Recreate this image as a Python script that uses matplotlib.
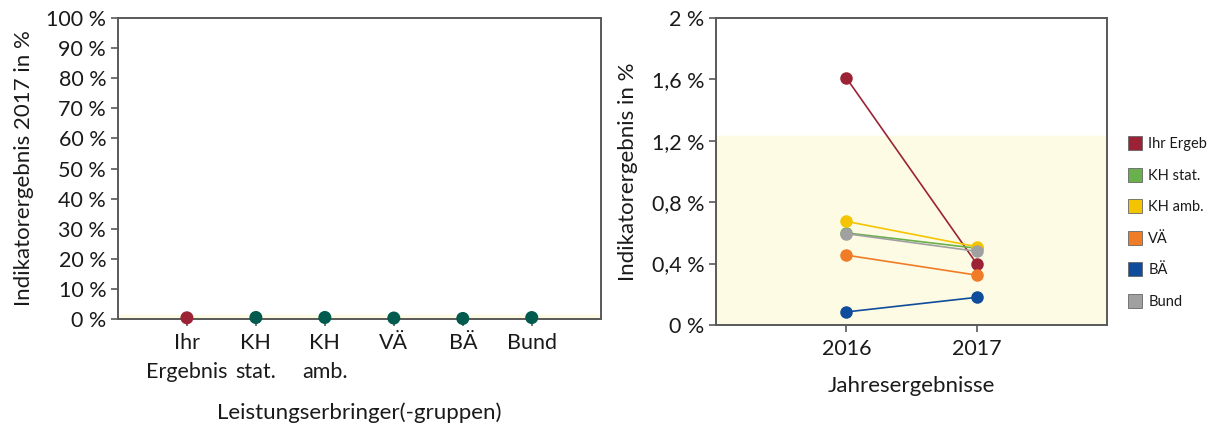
import matplotlib

matplotlib.use("Agg")
import matplotlib.pyplot as plt
from matplotlib.lines import Line2D
from matplotlib.ticker import FuncFormatter

plt.rcParams["font.family"] = ["Lato", "DejaVu Sans"]

groups = ["Ihr\nErgebnis", "KH\nstat.", "KH\namb.", "VÄ", "BÄ", "Bund"]
legend_labels = ["Ihr Ergeb", "KH stat.", "KH amb.", "VÄ", "BÄ", "Bund"]
colors = ["#9b2335", "#6ab04c", "#f5c400", "#f07c28", "#0f4c9c", "#a0a0a0"]
years = ["2016", "2017"]
values_2016 = [1.61, 0.60, 0.675, 0.455, 0.085, 0.595]
values_2017 = [0.40, 0.50, 0.51, 0.325, 0.18, 0.48]
ref_upper = 1.23

spine_col = "#595959"
text_col = "#1a1a1a"
band_col = "#fdfbe3"
fs = 15.5

fig = plt.figure(figsize=(12.16, 4.25), dpi=100)

def pct(v, _):
    s = f"{v:.1f}".rstrip("0").rstrip(".").replace(".", ",")
    return f"{s} %"

def style(ax):
    for sp in ax.spines.values():
        sp.set_color(spine_col)
        sp.set_linewidth(1.4)
    ax.tick_params(colors=spine_col, labelcolor=text_col, labelsize=fs, length=5, width=1.2)

# left chart: 2017 results per group
ax1 = fig.add_axes([0.097, 0.2494, 0.397, 0.708])
style(ax1)
ax1.set_xlim(-1, 6)
ax1.set_ylim(0, 100)
ax1.axhspan(0, ref_upper, color=band_col, zorder=0)
xs = list(range(len(groups)))
dot_cols = [colors[0]] + ["#005a4e"] * 5
ax1.scatter(xs, values_2017, c=dot_cols, s=70, zorder=3, clip_on=False)
ax1.set_xticks(xs)
ax1.set_xticklabels(groups, linespacing=1.6)
ax1.set_yticks(range(0, 101, 10))
ax1.yaxis.set_major_formatter(FuncFormatter(lambda v, _: f"{int(v)} %"))
ax1.tick_params(axis="x", pad=5)
ax1.set_ylabel("Indikatorergebnis 2017 in %", fontsize=16, color=text_col, labelpad=9)
ax1.set_xlabel("Leistungserbringer(-gruppen)", fontsize=16, color=text_col, labelpad=14)

# right chart: year comparison
ax2 = fig.add_axes([0.5888, 0.2353, 0.3215, 0.7224])
style(ax2)
ax2.set_xlim(-1, 2)
ax2.set_ylim(0, 2)
ax2.axhspan(0, ref_upper, color=band_col, zorder=0)
for c, a, b in zip(colors, values_2016, values_2017):
    ax2.plot([0, 1], [a, b], color=c, lw=1.2, marker="o", ms=8, zorder=3)
ax2.set_xticks([0, 1])
ax2.set_xticklabels(years)
ax2.set_yticks([0, 0.4, 0.8, 1.2, 1.6, 2.0])
ax2.yaxis.set_major_formatter(FuncFormatter(pct))
ax2.tick_params(axis="x", pad=5)
ax2.set_ylabel("Indikatorergebnis in %", fontsize=16, color=text_col, labelpad=10)
ax2.set_xlabel("Jahresergebnisse", fontsize=16, color=text_col, labelpad=12)

handles = [Line2D([], [], ls="none", marker="s", ms=10, mfc=c, mec="#666666", mew=0.6) for c in colors]
fig.legend(handles, legend_labels, loc="upper left", bbox_to_anchor=(0.918, 0.708),
           frameon=False, fontsize=10.5, labelspacing=1.2, handlelength=0.8,
           handletextpad=0.5, labelcolor=text_col)

fig.savefig("out.png", dpi=100)
